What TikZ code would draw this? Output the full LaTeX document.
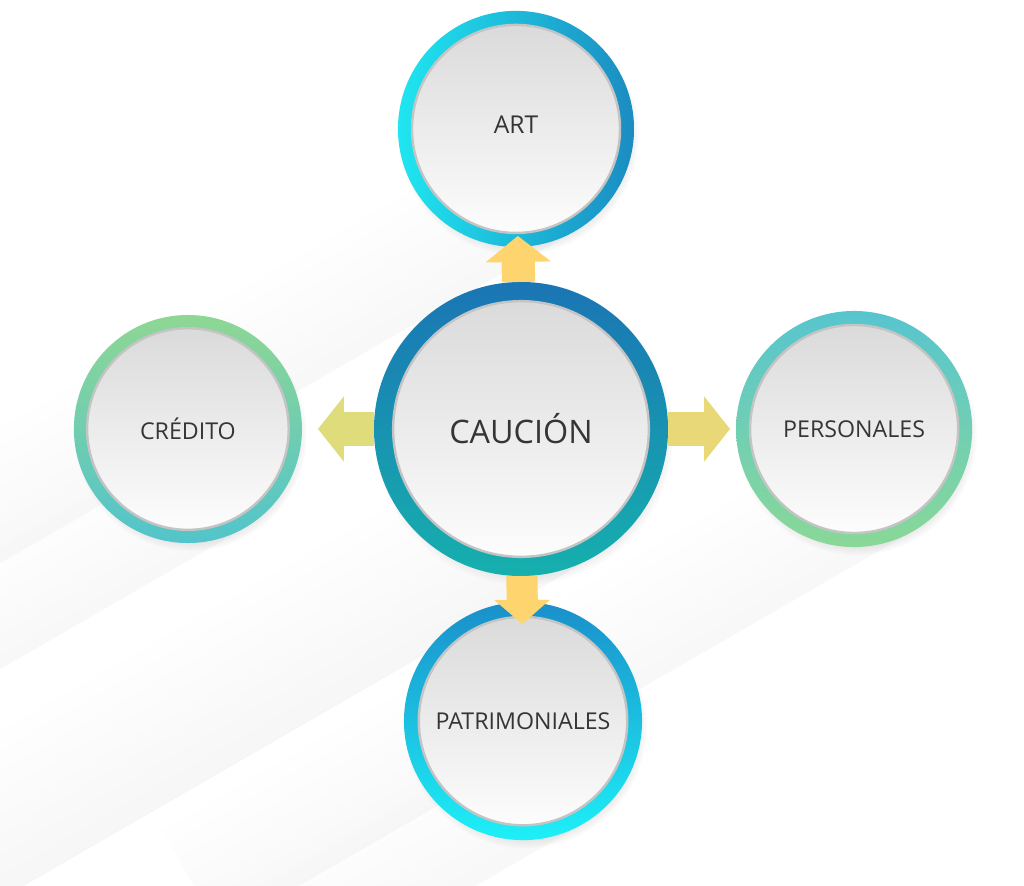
\documentclass[tikz,border=0pt]{standalone}
\usepackage{fontspec}
\setmainfont{Open Sans}
\usetikzlibrary{positioning,arrows.meta,shadows,backgrounds,calc}

\definecolor{labelgrey}{HTML}{353535}
\definecolor{diskgrey}{HTML}{D8D8D8}
\definecolor{rimgrey}{HTML}{C4C4C4}
\definecolor{artleft}{HTML}{1FE6F0}
\definecolor{artright}{HTML}{1B8CC2}
\definecolor{cautop}{HTML}{1A75B4}
\definecolor{caubot}{HTML}{16B0AE}
\definecolor{credtop}{HTML}{8ED794}
\definecolor{credbot}{HTML}{52C4CB}
\definecolor{perstop}{HTML}{57C5CF}
\definecolor{persbot}{HTML}{8AD897}
\definecolor{pattop}{HTML}{1A8FCA}
\definecolor{patbot}{HTML}{1DF0F7}
\definecolor{flowup}{HTML}{FDD46D}
\definecolor{flowleft}{HTML}{DFDC7C}
\definecolor{flowright}{HTML}{E9D877}

\tikzset{
  ring width/.store in=\ringw, ring width=0.35cm,
  bubble/.style={circle,inner sep=0pt,outer sep=0pt,minimum size=#1,text=labelgrey,
    font=\fontsize{16.5}{20}\selectfont,
    circular drop shadow={shadow scale=1.02,shadow xshift=0.06cm,shadow yshift=-0.14cm,opacity=0.3},
    path picture={\shade[top color=diskgrey,bottom color=white,draw=rimgrey,line width=0.06cm]
      (path picture bounding box.center) circle[radius=#1/2-\ringw];}},
  flow/.style={draw=#1,line width=0.83cm,-{Triangle[length=0.65cm,width=1.6cm,fill=#1]}},
  longshadow/.style={left color=white,right color=black,middle color=white,shading angle=30,opacity=0.08},
}

\begin{document}
\begin{tikzpicture}[x=0.025cm,y=-0.025cm]
    \useasboundingbox (0,0) rectangle (1024,886);
    \node[bubble=7.35cm,ring width=0.48cm,top color=cautop,bottom color=caubot,font=\fontsize{23}{28}\selectfont] (caucion) at (521,429) {CAUCIÓN};
    \node[bubble=5.9cm,left color=artleft,right color=artright,font=\fontsize{17.5}{21}\selectfont,above=0.875cm of caucion,xshift=-0.125cm] (art) {\raisebox{0.2cm}{ART}};
    \node[bubble=5.7cm,ring width=0.33cm,top color=credtop,bottom color=credbot,left=1.8cm of caucion] (credito) {CRÉDITO};
    \node[bubble=5.9cm,top color=perstop,bottom color=persbot,right=1.7cm of caucion] (personales) {PERSONALES};
    \node[bubble=5.95cm,ring width=0.37cm,top color=pattop,bottom color=patbot,below=0.65cm of caucion,xshift=0.05cm] (patrim) {PATRIMONIALES};
    \draw[flow=flowup,shorten >=-0.275cm] (caucion) -- (art);
    \draw[flow=flowleft,shorten >=0.4cm] (caucion) -- (credito);
    \draw[flow=flowright,shorten >=0.15cm] (caucion) -- (personales);
    \draw[flow=flowup,line width=0.78cm,-{Triangle[length=0.6cm,width=1.35cm,fill=flowup]},shorten >=-0.55cm] (caucion) -- (patrim);
    % long shadows behind the bubbles
    \begin{scope}[on background layer]
        \fill[white] (0,0) rectangle (1024,886);
        \clip (0,0) rectangle (1024,886);
        \foreach \n in {art,caucion,credito,personales,patrim}
            \shade[longshadow] (\n.120) -- ($(\n.120)+(210:20cm)$) -- ($(\n.300)+(210:20cm)$) -- (\n.300) -- cycle;
    \end{scope}
\end{tikzpicture}
\end{document}
